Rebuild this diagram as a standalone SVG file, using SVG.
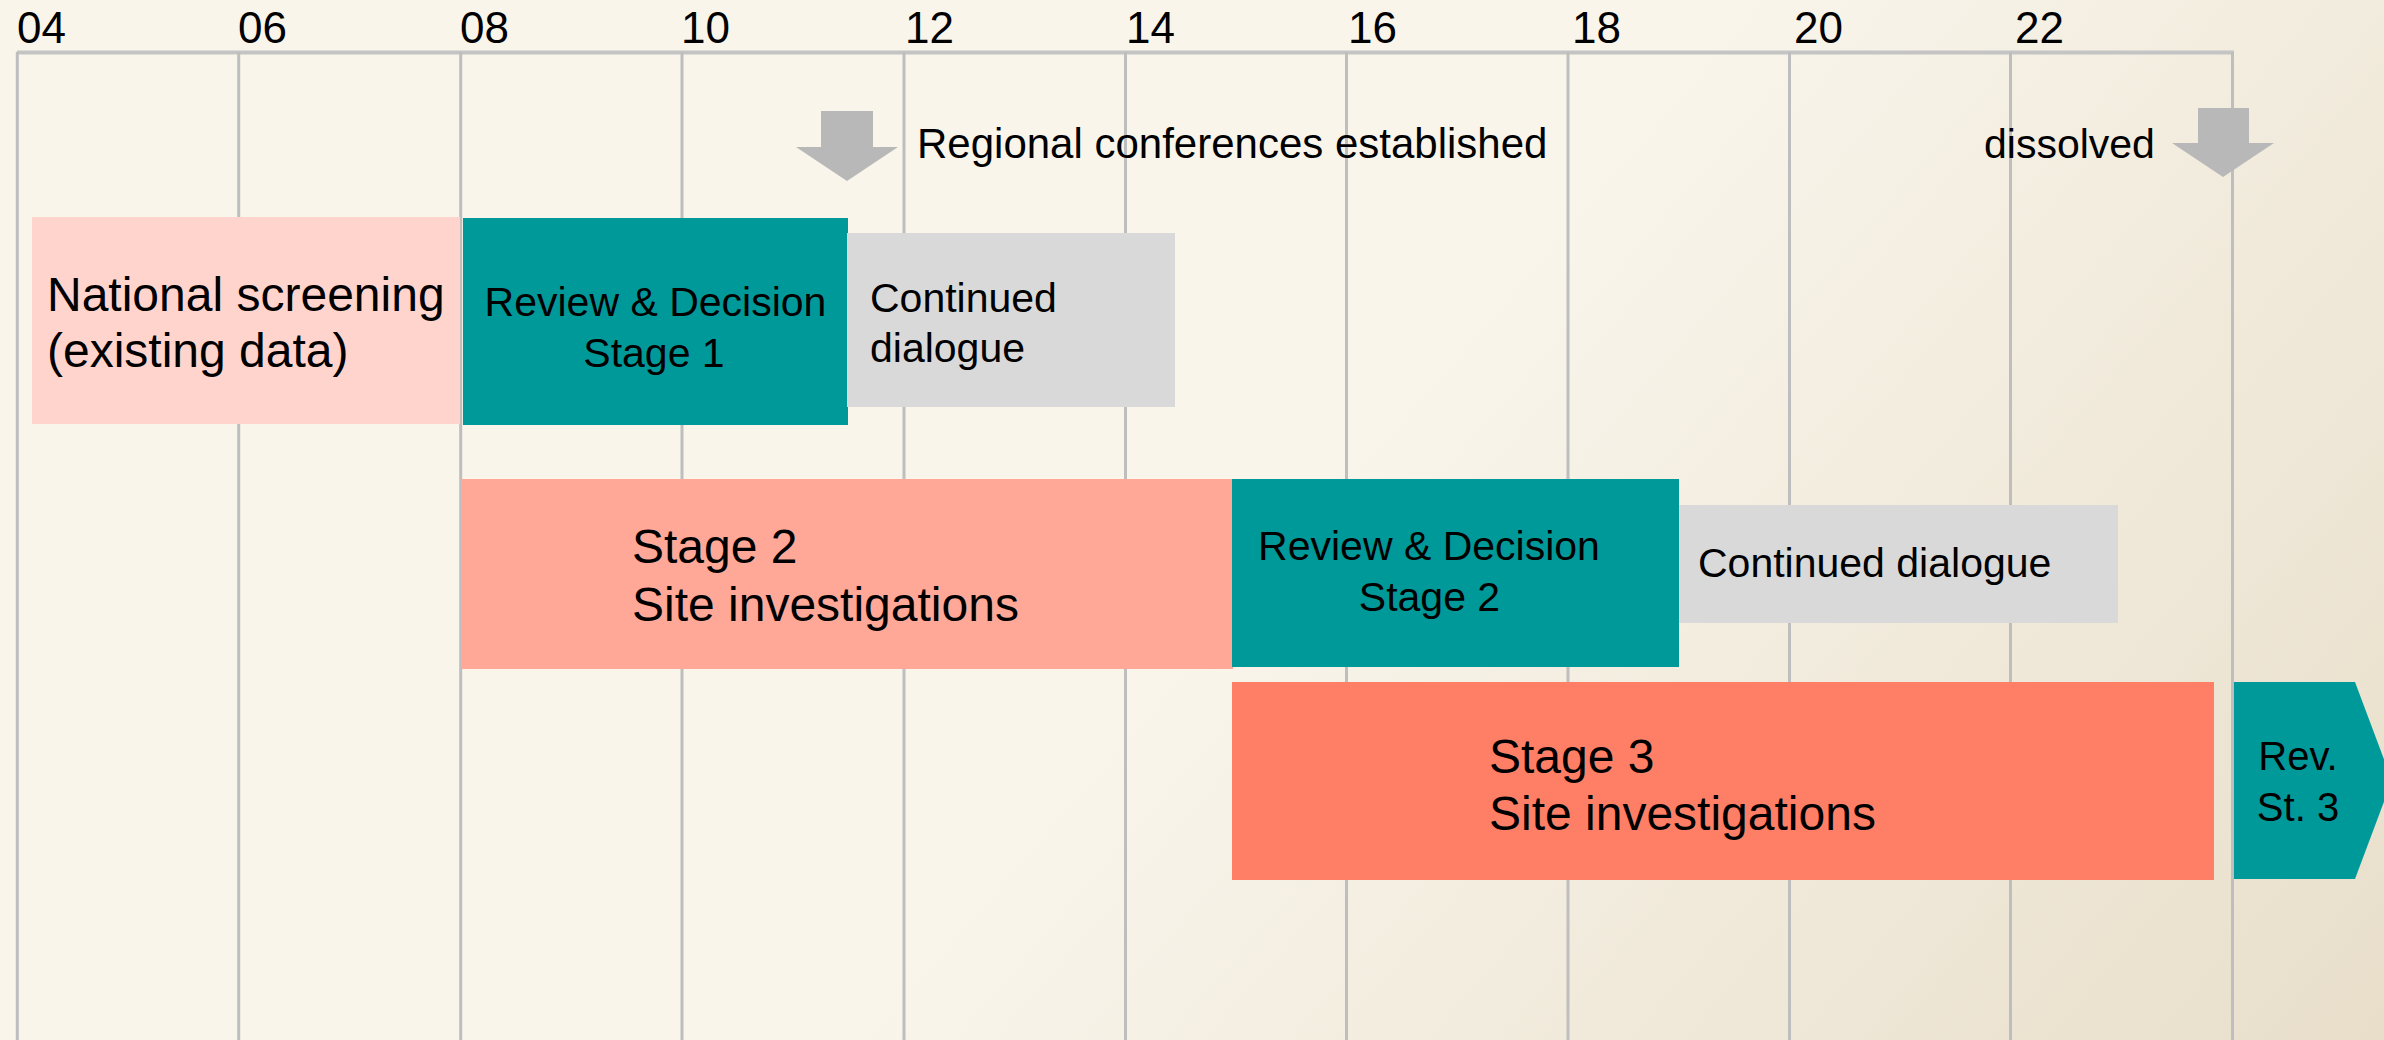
<svg xmlns="http://www.w3.org/2000/svg" width="2384" height="1040" viewBox="0 0 2384 1040">
  <defs>
    <linearGradient id="bg" gradientUnits="userSpaceOnUse" x1="1204" y1="620" x2="2087" y2="1382">
      <stop offset="0" stop-color="#F9F5EB"/>
      <stop offset="1" stop-color="#E8DECA"/>
    </linearGradient>
  </defs>
  <style>
    text { font-family: "Liberation Sans", Arial, sans-serif; fill: #000000; }
    .yr { font-size: 44px; }
    .big { font-size: 48px; }
    .mid { font-size: 41px; }
    .note { font-size: 42px; }
    .sm { font-size: 40px; }
    .grid { stroke: #BEBEBE; stroke-width: 3; fill: none; }
    .axis { stroke: #C4C4C4; stroke-width: 4; fill: none; }
    .teal { fill: #009999; }
    .grey { fill: #D9D9D9; }
    .pale { fill: #FFD4CC; }
    .salmon { fill: #FFA898; }
    .coral { fill: #FF7F66; }
    .arrow { fill: #B8B8B8; }
    .c { text-anchor: middle; }
  </style>

  <rect x="0" y="0" width="2384" height="1040" fill="url(#bg)"/>

  <g id="grid">
    <line class="axis" x1="17" y1="52.5" x2="2234" y2="52.5"/>
    <line class="grid" x1="17.3" y1="52" x2="17.3" y2="1040"/>
    <line class="grid" x1="238.7" y1="52" x2="238.7" y2="1040"/>
    <line class="grid" x1="460.7" y1="52" x2="460.7" y2="1040"/>
    <line class="grid" x1="682" y1="52" x2="682" y2="1040"/>
    <line class="grid" x1="904" y1="52" x2="904" y2="1040"/>
    <line class="grid" x1="1125.5" y1="52" x2="1125.5" y2="1040"/>
    <line class="grid" x1="1346.5" y1="52" x2="1346.5" y2="1040"/>
    <line class="grid" x1="1568" y1="52" x2="1568" y2="1040"/>
    <line class="grid" x1="1789.5" y1="52" x2="1789.5" y2="1040"/>
    <line class="grid" x1="2010.5" y1="52" x2="2010.5" y2="1040"/>
    <line class="grid" x1="2232.5" y1="52" x2="2232.5" y2="1040"/>
  </g>

  <g id="years">
    <text class="yr" x="17" y="43">04</text>
    <text class="yr" x="238" y="43">06</text>
    <text class="yr" x="460" y="43">08</text>
    <text class="yr" x="681" y="43">10</text>
    <text class="yr" x="905" y="43">12</text>
    <text class="yr" x="1126" y="43">14</text>
    <text class="yr" x="1348" y="43">16</text>
    <text class="yr" x="1572" y="43">18</text>
    <text class="yr" x="1794" y="43">20</text>
    <text class="yr" x="2015" y="43">22</text>
  </g>

  <g id="national-screening">
    <rect class="pale" x="32" y="217" width="428" height="207"/>
    <text class="big" x="47" y="311">National screening</text>
    <text class="big" x="47" y="367">(existing data)</text>
  </g>

  <g id="review-stage1">
    <rect class="teal" x="463" y="218" width="385" height="207"/>
    <text class="mid c" x="655.5" y="316">Review &amp; Decision</text>
    <text class="mid c" x="654" y="367">Stage 1</text>
  </g>

  <g id="dialogue1">
    <rect class="grey" x="847" y="233" width="328" height="174"/>
    <text class="mid" x="870" y="312">Continued</text>
    <text class="mid" x="870" y="362">dialogue</text>
  </g>

  <g id="stage2">
    <rect class="salmon" x="461" y="479" width="772" height="190"/>
    <text class="big" x="632" y="563">Stage 2</text>
    <text class="big" x="632" y="621">Site investigations</text>
  </g>

  <g id="review-stage2">
    <rect class="teal" x="1232" y="479" width="447" height="188"/>
    <text class="mid c" x="1429" y="560">Review &amp; Decision</text>
    <text class="mid c" x="1429.5" y="611">Stage 2</text>
  </g>

  <g id="dialogue2">
    <rect class="grey" x="1679" y="505" width="439" height="118"/>
    <text class="mid" x="1698" y="577">Continued dialogue</text>
  </g>

  <g id="stage3">
    <rect class="coral" x="1232" y="682" width="982" height="198"/>
    <text class="big" x="1489" y="773">Stage 3</text>
    <text class="big" x="1489" y="830">Site investigations</text>
  </g>

  <g id="review-stage3">
    <polygon class="teal" points="2234,682 2355,682 2392,780.5 2355,879 2234,879"/>
    <text class="sm c" x="2298" y="770">Rev.</text>
    <text class="sm c" x="2298" y="821">St. 3</text>
  </g>

  <g id="regional-conferences">
    <polygon class="arrow" points="821,111 873,111 873,147 898,147 847,181 796,147 821,147"/>
    <text class="note" x="917" y="158">Regional conferences established</text>
  </g>

  <g id="dissolved">
    <polygon class="arrow" points="2198,108 2249,108 2249,143 2274,143 2223,177 2172,143 2198,143"/>
    <text class="mid" x="1984" y="158">dissolved</text>
  </g>
</svg>
